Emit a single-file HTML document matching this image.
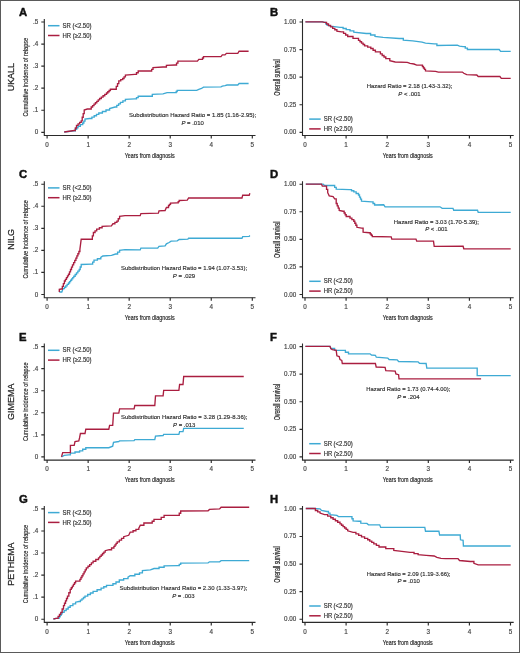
<!DOCTYPE html>
<html><head><meta charset="utf-8"><style>
html,body{margin:0;padding:0;background:#fff;}
body{width:520px;height:653px;overflow:hidden;position:relative;}
svg{position:absolute;left:0;top:0;font-family:"Liberation Sans", sans-serif;filter:blur(0.42px);}
svg text{stroke:#2b2b2b;stroke-width:0.16px;}
</style></head><body>
<svg width="520" height="653" viewBox="0 0 520 653">
<rect x="0" y="0" width="520" height="653" fill="#fff"/>
<text x="19.1" y="15.9" font-size="11.3" text-anchor="start" font-weight="bold" fill="#111" style="stroke:#111;stroke-width:0.45px">A</text>
<path d="M44.3 19 V135.5 H255.5" fill="none" stroke="#2a2a2a" stroke-width="1.1"/>
<text x="38.3" y="134.3" font-size="6.3" text-anchor="end" font-weight="normal" fill="#444" style="stroke:#444">0</text>
<text x="38.3" y="112.24" font-size="6.3" text-anchor="end" font-weight="normal" fill="#444" style="stroke:#444">.1</text>
<text x="38.3" y="90.18" font-size="6.3" text-anchor="end" font-weight="normal" fill="#444" style="stroke:#444">.2</text>
<text x="38.3" y="68.12" font-size="6.3" text-anchor="end" font-weight="normal" fill="#444" style="stroke:#444">.3</text>
<text x="38.3" y="46.06" font-size="6.3" text-anchor="end" font-weight="normal" fill="#444" style="stroke:#444">.4</text>
<text x="38.3" y="24" font-size="6.3" text-anchor="end" font-weight="normal" fill="#444" style="stroke:#444">.5</text>
<text x="47.1" y="146.8" font-size="6.3" text-anchor="middle" font-weight="normal" fill="#444" style="stroke:#444">0</text>
<text x="88.14" y="146.8" font-size="6.3" text-anchor="middle" font-weight="normal" fill="#444" style="stroke:#444">1</text>
<text x="129.18" y="146.8" font-size="6.3" text-anchor="middle" font-weight="normal" fill="#444" style="stroke:#444">2</text>
<text x="170.22" y="146.8" font-size="6.3" text-anchor="middle" font-weight="normal" fill="#444" style="stroke:#444">3</text>
<text x="211.26" y="146.8" font-size="6.3" text-anchor="middle" font-weight="normal" fill="#444" style="stroke:#444">4</text>
<text x="252.3" y="146.8" font-size="6.3" text-anchor="middle" font-weight="normal" fill="#444" style="stroke:#444">5</text>
<path d="M41.3 132.3 H44.3 M41.3 110.24 H44.3 M41.3 88.18 H44.3 M41.3 66.12 H44.3 M41.3 44.06 H44.3 M41.3 22 H44.3 M47.1 135.5 V138.5 M88.14 135.5 V138.5 M129.18 135.5 V138.5 M170.22 135.5 V138.5 M211.26 135.5 V138.5 M252.3 135.5 V138.5" stroke="#2a2a2a" stroke-width="1.15"/>
<text x="149.7" y="157.7" font-size="8.0" text-anchor="middle" fill="#222" style="stroke-width:0.2px" textLength="50" lengthAdjust="spacingAndGlyphs">Years from diagnosis</text>
<text transform="translate(28 77.15) rotate(-90)" x="0" y="0" font-size="7.6" text-anchor="middle" fill="#222" textLength="78.5" lengthAdjust="spacingAndGlyphs">Cumulative incidence of relapse</text>
<text transform="translate(13.9 77.15) rotate(-90)" x="0" y="0" font-size="8.95" text-anchor="middle" fill="#222" style="stroke-width:0.25px">UKALL</text>
<path d="M48 25.7 h11.5" stroke="#3eaad4" stroke-width="1.5"/>
<path d="M48 35.5 h11.5" stroke="#aa1e40" stroke-width="1.5"/>
<text x="62.5" y="27.8" font-size="6.5" text-anchor="start" font-weight="normal" fill="#333" textLength="29" lengthAdjust="spacingAndGlyphs">SR (&lt;2.50)</text>
<text x="62.5" y="37.6" font-size="6.5" text-anchor="start" font-weight="normal" fill="#333" textLength="29" lengthAdjust="spacingAndGlyphs">HR (&#8805;2.50)</text>
<text x="192.6" y="117.4" font-size="6.05" text-anchor="middle" fill="#333" textLength="127.2" lengthAdjust="spacingAndGlyphs">Subdistribution Hazard Ratio = 1.85 (1.16-2.95);</text>
<text x="192.6" y="125.1" font-size="6.05" text-anchor="middle" fill="#333" textLength="22.4" lengthAdjust="spacingAndGlyphs"><tspan font-style="italic">P</tspan> = .010</text>
<path d="M64.2 132 L74 130.8 L75.33 130.8 L75.33 129.27 L76.67 129.27 L76.67 127.73 L78 127.73 L78 126.2 L80.35 126.2 L80.35 124.6 L82.7 124.6 L82.7 123 L83.85 123 L83.85 121.1 L85 121.1 L85 119.2 L89.6 118.5 L91.9 118.5 L91.9 117.12 L94.2 117.12 L94.2 115.75 L96.5 115.75 L96.5 114.38 L98.8 114.38 L98.8 113 L102.4 113 L102.4 111.5 L106 111.5 L106 110 L109.6 110 L109.6 108.5 L115 107 L116.8 107 L116.8 105.43 L118.6 105.43 L118.6 103.87 L120.4 103.87 L120.4 102.3 L122.9 102.3 L122.9 100.8 L125.4 100.8 L125.4 99.3 L134.8 98.9 L136.5 98.9 L136.5 97.55 L138.2 97.55 L138.2 96.2 L149.6 96.2 L152.3 96.2 L152.3 94.3 L163 93.9 L167.1 92.6 L175.2 92.6 L176.2 92.6 L176.2 91.45 L177.2 91.45 L177.2 90.3 L196.7 90.3 L198.8 89.3 L201.5 88.5 L203.5 87.2 L221 86.9 L222.3 86.2 L225 85.6 L227 85 L237.8 85 L239.1 83.5 L248.6 83.5" fill="none" stroke="#3eaad4" stroke-width="1.35" stroke-linejoin="miter"/>
<path d="M64.2 132 L74.2 130.5 L75.35 130.5 L75.35 127.95 L76.5 127.95 L76.5 125.4 L78.07 125.4 L78.07 123.87 L79.63 123.87 L79.63 122.33 L81.2 122.33 L81.2 120.8 L82.2 120.8 L82.2 117.2 L83.2 117.2 L83.2 113.6 L84.2 113.6 L84.2 110 L87.3 109 L91.2 109 L91.2 107 L92.6 107 L92.6 105.58 L94 105.58 L94 104.17 L95.4 104.17 L95.4 102.75 L96.8 102.75 L96.8 101.33 L98.2 101.33 L98.2 99.92 L99.6 99.92 L99.6 98.5 L101.32 98.5 L101.32 97.12 L103.05 97.12 L103.05 95.75 L104.78 95.75 L104.78 94.38 L106.5 94.38 L106.5 93 L107.8 93 L107.8 91.73 L109.1 91.73 L109.1 90.47 L110.4 90.47 L110.4 89.2 L115 89.2 L116.27 89.2 L116.27 86.4 L117.53 86.4 L117.53 83.6 L118.8 83.6 L118.8 80.8 L120.75 80.8 L120.75 79.65 L122.7 79.65 L122.7 78.5 L124.05 78.5 L124.05 76.8 L125.4 76.8 L125.4 75.1 L134.8 74.4 L136.5 74.4 L136.5 72.7 L138.2 72.7 L138.2 71 L150.3 71 L151.65 71 L151.65 69.35 L153 69.35 L153 67.7 L163 67 L166.4 67 L166.4 65.3 L175.2 65 L176.55 65 L176.55 63.1 L177.9 63.1 L177.9 61.2 L197.4 61.1 L198.8 59.3 L201.5 59.3 L202.5 59.3 L202.5 57.95 L203.5 57.95 L203.5 56.6 L221 56.6 L222.3 54.9 L225 54.9 L226.4 53.3 L237.8 53.3 L239.1 51.2 L248.6 51.2" fill="none" stroke="#aa1e40" stroke-width="1.35" stroke-linejoin="miter"/>
<text x="270.1" y="15.9" font-size="11.3" text-anchor="start" font-weight="bold" fill="#111" style="stroke:#111;stroke-width:0.45px">B</text>
<path d="M302.5 19 V135.5 H513.7" fill="none" stroke="#2a2a2a" stroke-width="1.1"/>
<text x="296.3" y="134.3" font-size="6.3" text-anchor="end" font-weight="normal" fill="#444" style="stroke:#444">0.00</text>
<text x="296.3" y="106.73" font-size="6.3" text-anchor="end" font-weight="normal" fill="#444" style="stroke:#444">0.25</text>
<text x="296.3" y="79.15" font-size="6.3" text-anchor="end" font-weight="normal" fill="#444" style="stroke:#444">0.50</text>
<text x="296.3" y="51.58" font-size="6.3" text-anchor="end" font-weight="normal" fill="#444" style="stroke:#444">0.75</text>
<text x="296.3" y="24" font-size="6.3" text-anchor="end" font-weight="normal" fill="#444" style="stroke:#444">1.00</text>
<text x="305" y="146.8" font-size="6.3" text-anchor="middle" font-weight="normal" fill="#444" style="stroke:#444">0</text>
<text x="346.1" y="146.8" font-size="6.3" text-anchor="middle" font-weight="normal" fill="#444" style="stroke:#444">1</text>
<text x="387.2" y="146.8" font-size="6.3" text-anchor="middle" font-weight="normal" fill="#444" style="stroke:#444">2</text>
<text x="428.3" y="146.8" font-size="6.3" text-anchor="middle" font-weight="normal" fill="#444" style="stroke:#444">3</text>
<text x="469.4" y="146.8" font-size="6.3" text-anchor="middle" font-weight="normal" fill="#444" style="stroke:#444">4</text>
<text x="510.5" y="146.8" font-size="6.3" text-anchor="middle" font-weight="normal" fill="#444" style="stroke:#444">5</text>
<path d="M299.5 132.3 H302.5 M299.5 104.73 H302.5 M299.5 77.15 H302.5 M299.5 49.58 H302.5 M299.5 22 H302.5 M305 135.5 V138.5 M346.1 135.5 V138.5 M387.2 135.5 V138.5 M428.3 135.5 V138.5 M469.4 135.5 V138.5 M510.5 135.5 V138.5" stroke="#2a2a2a" stroke-width="1.15"/>
<text x="407.75" y="157.7" font-size="8.0" text-anchor="middle" fill="#222" style="stroke-width:0.2px" textLength="50" lengthAdjust="spacingAndGlyphs">Years from diagnosis</text>
<text transform="translate(280.2 77.55) rotate(-90)" x="0" y="0" font-size="8.2" text-anchor="middle" fill="#222" textLength="36.4" lengthAdjust="spacingAndGlyphs">Overall survival</text>
<path d="M309.2 119.1 h11.5" stroke="#3eaad4" stroke-width="1.5"/>
<path d="M309.2 128.9 h11.5" stroke="#aa1e40" stroke-width="1.5"/>
<text x="323.7" y="121.2" font-size="6.5" text-anchor="start" font-weight="normal" fill="#333" textLength="29" lengthAdjust="spacingAndGlyphs">SR (&lt;2.50)</text>
<text x="323.7" y="131" font-size="6.5" text-anchor="start" font-weight="normal" fill="#333" textLength="29" lengthAdjust="spacingAndGlyphs">HR (&#8805;2.50)</text>
<text x="409.5" y="88.1" font-size="6.05" text-anchor="middle" fill="#333" textLength="85.6" lengthAdjust="spacingAndGlyphs">Hazard Ratio = 2.18 (1.43-3.32);</text>
<text x="409.5" y="95.8" font-size="6.05" text-anchor="middle" fill="#333" textLength="22.4" lengthAdjust="spacingAndGlyphs"><tspan font-style="italic">P</tspan> &lt; .001</text>
<path d="M305.4 21.8 L322.3 21.8 L324.6 22.4 L325.75 22.4 L325.75 23.7 L326.9 23.7 L326.9 25 L330.8 26.1 L340 27.3 L343.1 27.3 L343.1 28.45 L346.2 28.45 L346.2 29.6 L350 29.6 L350 30.9 L353.8 30.9 L353.8 32.2 L366.2 33.5 L370.6 33.5 L370.6 34.95 L375 34.95 L375 36.4 L383.1 37.4 L399.2 38.5 L403.3 38.5 L403.3 40.1 L412.7 40.9 L422.1 42.2 L425.5 43.2 L434.2 43.8 L436.9 43.8 L436.9 45.5 L457.3 45.2 L459.5 46.2 L463.1 46.6 L465.25 46.6 L465.25 48.05 L467.4 48.05 L467.4 49.5 L499.2 49.5 L500.6 51.4 L510.7 51.4" fill="none" stroke="#3eaad4" stroke-width="1.35" stroke-linejoin="miter"/>
<path d="M305.4 21.8 L322.3 21.8 L324.6 22.4 L326.55 22.4 L326.55 23.95 L328.5 23.95 L328.5 25.5 L330.6 25.5 L330.6 26.93 L332.7 26.93 L332.7 28.35 L334.8 28.35 L334.8 29.77 L336.9 29.77 L336.9 31.2 L341.5 31.9 L343.57 31.9 L343.57 33.43 L345.63 33.43 L345.63 34.97 L347.7 34.97 L347.7 36.5 L353 36.5 L353 38.4 L358.5 38.4 L358.5 40.4 L360.02 40.4 L360.02 41.75 L361.55 41.75 L361.55 43.1 L363.08 43.1 L363.08 44.45 L364.6 44.45 L364.6 45.8 L367.7 45.8 L367.7 47.15 L370.8 47.15 L370.8 48.5 L373.1 48.5 L373.1 50.2 L375.4 50.2 L375.4 51.9 L380.4 51.9 L380.4 53.9 L382.2 53.9 L382.2 55.47 L384 55.47 L384 57.03 L385.8 57.03 L385.8 58.6 L389.8 58.6 L389.8 60.7 L395.2 62 L407.3 62.4 L410 63.4 L414 64 L416.7 65.1 L421.4 65.1 L422.42 65.1 L422.42 66.52 L423.45 66.52 L423.45 67.95 L424.48 67.95 L424.48 69.38 L425.5 69.38 L425.5 70.8 L435.6 71.4 L438.3 72.1 L462.4 72.1 L463.8 73.3 L466.7 74.7 L476.8 75 L478.2 76.5 L499.9 76.5 L501.3 78.3 L510.7 78.3" fill="none" stroke="#aa1e40" stroke-width="1.35" stroke-linejoin="miter"/>
<text x="19.1" y="178.1" font-size="11.3" text-anchor="start" font-weight="bold" fill="#111" style="stroke:#111;stroke-width:0.45px">C</text>
<path d="M44.3 181.2 V297.7 H255.5" fill="none" stroke="#2a2a2a" stroke-width="1.1"/>
<text x="38.3" y="296.5" font-size="6.3" text-anchor="end" font-weight="normal" fill="#444" style="stroke:#444">0</text>
<text x="38.3" y="274.44" font-size="6.3" text-anchor="end" font-weight="normal" fill="#444" style="stroke:#444">.1</text>
<text x="38.3" y="252.38" font-size="6.3" text-anchor="end" font-weight="normal" fill="#444" style="stroke:#444">.2</text>
<text x="38.3" y="230.32" font-size="6.3" text-anchor="end" font-weight="normal" fill="#444" style="stroke:#444">.3</text>
<text x="38.3" y="208.26" font-size="6.3" text-anchor="end" font-weight="normal" fill="#444" style="stroke:#444">.4</text>
<text x="38.3" y="186.2" font-size="6.3" text-anchor="end" font-weight="normal" fill="#444" style="stroke:#444">.5</text>
<text x="47.1" y="309" font-size="6.3" text-anchor="middle" font-weight="normal" fill="#444" style="stroke:#444">0</text>
<text x="88.14" y="309" font-size="6.3" text-anchor="middle" font-weight="normal" fill="#444" style="stroke:#444">1</text>
<text x="129.18" y="309" font-size="6.3" text-anchor="middle" font-weight="normal" fill="#444" style="stroke:#444">2</text>
<text x="170.22" y="309" font-size="6.3" text-anchor="middle" font-weight="normal" fill="#444" style="stroke:#444">3</text>
<text x="211.26" y="309" font-size="6.3" text-anchor="middle" font-weight="normal" fill="#444" style="stroke:#444">4</text>
<text x="252.3" y="309" font-size="6.3" text-anchor="middle" font-weight="normal" fill="#444" style="stroke:#444">5</text>
<path d="M41.3 294.5 H44.3 M41.3 272.44 H44.3 M41.3 250.38 H44.3 M41.3 228.32 H44.3 M41.3 206.26 H44.3 M41.3 184.2 H44.3 M47.1 297.7 V300.7 M88.14 297.7 V300.7 M129.18 297.7 V300.7 M170.22 297.7 V300.7 M211.26 297.7 V300.7 M252.3 297.7 V300.7" stroke="#2a2a2a" stroke-width="1.15"/>
<text x="149.7" y="319.9" font-size="8.0" text-anchor="middle" fill="#222" style="stroke-width:0.2px" textLength="50" lengthAdjust="spacingAndGlyphs">Years from diagnosis</text>
<text transform="translate(28 239.35) rotate(-90)" x="0" y="0" font-size="7.6" text-anchor="middle" fill="#222" textLength="78.5" lengthAdjust="spacingAndGlyphs">Cumulative incidence of relapse</text>
<text transform="translate(13.9 239.35) rotate(-90)" x="0" y="0" font-size="8.95" text-anchor="middle" fill="#222" style="stroke-width:0.25px">NILG</text>
<path d="M48 187.9 h11.5" stroke="#3eaad4" stroke-width="1.5"/>
<path d="M48 197.7 h11.5" stroke="#aa1e40" stroke-width="1.5"/>
<text x="62.5" y="190" font-size="6.5" text-anchor="start" font-weight="normal" fill="#333" textLength="29" lengthAdjust="spacingAndGlyphs">SR (&lt;2.50)</text>
<text x="62.5" y="199.8" font-size="6.5" text-anchor="start" font-weight="normal" fill="#333" textLength="29" lengthAdjust="spacingAndGlyphs">HR (&#8805;2.50)</text>
<text x="184" y="270.2" font-size="6.05" text-anchor="middle" fill="#333" textLength="126.1" lengthAdjust="spacingAndGlyphs">Subdistribution Hazard Ratio = 1.94 (1.07-3.53);</text>
<text x="184" y="277.9" font-size="6.05" text-anchor="middle" fill="#333" textLength="22.4" lengthAdjust="spacingAndGlyphs"><tspan font-style="italic">P</tspan> = .029</text>
<path d="M59.3 292 L61.8 292 L63.1 288.6 L64.45 288.6 L64.45 287.2 L65.8 287.2 L65.8 285.8 L67.15 285.8 L67.15 284.4 L68.5 284.4 L68.5 283 L69.56 283 L69.56 281.64 L70.62 281.64 L70.62 280.28 L71.68 280.28 L71.68 278.92 L72.74 278.92 L72.74 277.56 L73.8 277.56 L73.8 276.2 L75.15 276.2 L75.15 274.52 L76.5 274.52 L76.5 272.85 L77.85 272.85 L77.85 271.18 L79.2 271.18 L79.2 269.5 L80.2 269.5 L80.2 267 L81.2 267 L81.2 264.5 L91.3 264.1 L92.65 264.1 L92.65 262.1 L94 262.1 L94 260.1 L97.4 260.1 L97.4 258.75 L100.8 258.75 L100.8 257.4 L102.8 256 L111.5 255.4 L115.6 254 L117.6 254 L117.6 252.15 L119.6 252.15 L119.6 250.3 L125 249.7 L140.2 249.9 L140.9 248.1 L157.7 248.1 L159 246.3 L165.1 245.9 L166.4 243.8 L169.1 242.5 L171.1 241.1 L177.2 240.9 L179.2 239.5 L187.9 239.2 L188.6 238.2 L242 238.2 L242.7 236.6 L249.2 236.3 L249.9 235.6" fill="none" stroke="#3eaad4" stroke-width="1.35" stroke-linejoin="miter"/>
<path d="M59.3 292 L59.3 289.3 L61.3 289 L62.33 289 L62.33 286.33 L63.37 286.33 L63.37 283.67 L64.4 283.67 L64.4 281 L65.43 281 L65.43 279.3 L66.45 279.3 L66.45 277.6 L67.47 277.6 L67.47 275.9 L68.5 275.9 L68.5 274.2 L69.5 274.2 L69.5 271.85 L70.5 271.85 L70.5 269.5 L71.5 269.5 L71.5 267.15 L72.5 267.15 L72.5 264.8 L73.63 264.8 L73.63 262.57 L74.77 262.57 L74.77 260.33 L75.9 260.33 L75.9 258.1 L76.9 258.1 L76.9 255.9 L77.9 255.9 L77.9 253.7 L78.9 253.7 L78.9 251.5 L79.9 251.5 L79.9 249.3 L81.2 239.2 L91.3 239.2 L92.35 239.2 L92.35 235.85 L93.4 235.85 L93.4 232.5 L95.05 232.5 L95.05 230.8 L96.7 230.8 L96.7 229.1 L99.4 229.1 L99.4 227.75 L102.1 227.75 L102.1 226.4 L111.5 225.8 L112.9 223.7 L114.9 223.7 L114.9 222.4 L116.9 222.4 L116.9 221.1 L118.25 221.1 L118.25 218.7 L119.6 218.7 L119.6 216.3 L125 215.7 L140.2 215.6 L140.9 213.6 L158.4 213.1 L159 210.9 L165.1 210.5 L166.4 207.5 L168.5 207.5 L168.5 205.5 L169.5 205.5 L169.5 204.35 L170.5 204.35 L170.5 203.2 L177.2 202.8 L178.2 202.8 L178.2 201.65 L179.2 201.65 L179.2 200.5 L187.3 200.1 L188.6 198 L242 198 L242.7 195.2 L249.2 195.2 L249.9 193.3" fill="none" stroke="#aa1e40" stroke-width="1.35" stroke-linejoin="miter"/>
<text x="270.1" y="178.1" font-size="11.3" text-anchor="start" font-weight="bold" fill="#111" style="stroke:#111;stroke-width:0.45px">D</text>
<path d="M302.5 181.2 V297.7 H513.7" fill="none" stroke="#2a2a2a" stroke-width="1.1"/>
<text x="296.3" y="296.5" font-size="6.3" text-anchor="end" font-weight="normal" fill="#444" style="stroke:#444">0.00</text>
<text x="296.3" y="268.93" font-size="6.3" text-anchor="end" font-weight="normal" fill="#444" style="stroke:#444">0.25</text>
<text x="296.3" y="241.35" font-size="6.3" text-anchor="end" font-weight="normal" fill="#444" style="stroke:#444">0.50</text>
<text x="296.3" y="213.77" font-size="6.3" text-anchor="end" font-weight="normal" fill="#444" style="stroke:#444">0.75</text>
<text x="296.3" y="186.2" font-size="6.3" text-anchor="end" font-weight="normal" fill="#444" style="stroke:#444">1.00</text>
<text x="305" y="309" font-size="6.3" text-anchor="middle" font-weight="normal" fill="#444" style="stroke:#444">0</text>
<text x="346.1" y="309" font-size="6.3" text-anchor="middle" font-weight="normal" fill="#444" style="stroke:#444">1</text>
<text x="387.2" y="309" font-size="6.3" text-anchor="middle" font-weight="normal" fill="#444" style="stroke:#444">2</text>
<text x="428.3" y="309" font-size="6.3" text-anchor="middle" font-weight="normal" fill="#444" style="stroke:#444">3</text>
<text x="469.4" y="309" font-size="6.3" text-anchor="middle" font-weight="normal" fill="#444" style="stroke:#444">4</text>
<text x="510.5" y="309" font-size="6.3" text-anchor="middle" font-weight="normal" fill="#444" style="stroke:#444">5</text>
<path d="M299.5 294.5 H302.5 M299.5 266.93 H302.5 M299.5 239.35 H302.5 M299.5 211.77 H302.5 M299.5 184.2 H302.5 M305 297.7 V300.7 M346.1 297.7 V300.7 M387.2 297.7 V300.7 M428.3 297.7 V300.7 M469.4 297.7 V300.7 M510.5 297.7 V300.7" stroke="#2a2a2a" stroke-width="1.15"/>
<text x="407.75" y="319.9" font-size="8.0" text-anchor="middle" fill="#222" style="stroke-width:0.2px" textLength="50" lengthAdjust="spacingAndGlyphs">Years from diagnosis</text>
<text transform="translate(280.2 239.75) rotate(-90)" x="0" y="0" font-size="8.2" text-anchor="middle" fill="#222" textLength="36.4" lengthAdjust="spacingAndGlyphs">Overall survival</text>
<path d="M309.2 281.3 h11.5" stroke="#3eaad4" stroke-width="1.5"/>
<path d="M309.2 291.1 h11.5" stroke="#aa1e40" stroke-width="1.5"/>
<text x="323.7" y="283.4" font-size="6.5" text-anchor="start" font-weight="normal" fill="#333" textLength="29" lengthAdjust="spacingAndGlyphs">SR (&lt;2.50)</text>
<text x="323.7" y="293.2" font-size="6.5" text-anchor="start" font-weight="normal" fill="#333" textLength="29" lengthAdjust="spacingAndGlyphs">HR (&#8805;2.50)</text>
<text x="436.4" y="223.6" font-size="6.05" text-anchor="middle" fill="#333" textLength="85.2" lengthAdjust="spacingAndGlyphs">Hazard Ratio = 3.03 (1.70-5.39);</text>
<text x="436.4" y="231.3" font-size="6.05" text-anchor="middle" fill="#333" textLength="22.4" lengthAdjust="spacingAndGlyphs"><tspan font-style="italic">P</tspan> &lt; .001</text>
<path d="M305.8 184.1 L323.1 184.1 L324.6 185.5 L333.1 185.5 L334.65 185.5 L334.65 187.35 L336.2 187.35 L336.2 189.2 L349.2 189.6 L351.5 189.6 L351.5 190.75 L353.8 190.75 L353.8 191.9 L356.15 191.9 L356.15 193.45 L358.5 193.45 L358.5 195 L359.5 195 L359.5 197.07 L360.5 197.07 L360.5 199.13 L361.5 199.13 L361.5 201.2 L371.5 201.9 L373.05 201.9 L373.05 203.45 L374.6 203.45 L374.6 205 L383.7 204.8 L385.1 206.8 L440 206.8 L442.2 208.3 L453 208.3 L453.7 210.2 L477.5 210.2 L478.2 212.3 L510.7 212.3" fill="none" stroke="#3eaad4" stroke-width="1.35" stroke-linejoin="miter"/>
<path d="M305.8 184.1 L321.5 184.1 L322.3 186.1 L325.4 186.1 L326.55 186.1 L326.55 189.4 L327.7 189.4 L327.7 192.7 L329.2 195.8 L333.1 196.5 L334.6 198.8 L336.2 198.8 L336.2 203.5 L337.2 203.5 L337.2 205.8 L338.2 205.8 L338.2 208.1 L339.2 208.1 L339.2 210.4 L343.1 211.2 L344.13 211.2 L344.13 212.97 L345.17 212.97 L345.17 214.73 L346.2 214.73 L346.2 216.5 L350 216.5 L350 218.1 L351.9 218.1 L351.9 219.65 L353.8 219.65 L353.8 221.2 L354.83 221.2 L354.83 223.23 L355.87 223.23 L355.87 225.27 L356.9 225.27 L356.9 227.3 L361.5 228.1 L363.1 228.1 L363.1 232.2 L369.2 232.7 L370.23 232.7 L370.23 233.97 L371.27 233.97 L371.27 235.23 L372.3 235.23 L372.3 236.5 L391.2 236.8 L391.8 239.1 L416 239.1 L416.7 241.1 L433.5 241.1 L434.2 246.3 L463.1 246.2 L463.8 248.8 L510.7 248.8" fill="none" stroke="#aa1e40" stroke-width="1.35" stroke-linejoin="miter"/>
<text x="19.1" y="340.5" font-size="11.3" text-anchor="start" font-weight="bold" fill="#111" style="stroke:#111;stroke-width:0.45px">E</text>
<path d="M44.3 343.6 V460.1 H255.5" fill="none" stroke="#2a2a2a" stroke-width="1.1"/>
<text x="38.3" y="458.9" font-size="6.3" text-anchor="end" font-weight="normal" fill="#444" style="stroke:#444">0</text>
<text x="38.3" y="436.84" font-size="6.3" text-anchor="end" font-weight="normal" fill="#444" style="stroke:#444">.1</text>
<text x="38.3" y="414.78" font-size="6.3" text-anchor="end" font-weight="normal" fill="#444" style="stroke:#444">.2</text>
<text x="38.3" y="392.72" font-size="6.3" text-anchor="end" font-weight="normal" fill="#444" style="stroke:#444">.3</text>
<text x="38.3" y="370.66" font-size="6.3" text-anchor="end" font-weight="normal" fill="#444" style="stroke:#444">.4</text>
<text x="38.3" y="348.6" font-size="6.3" text-anchor="end" font-weight="normal" fill="#444" style="stroke:#444">.5</text>
<text x="47.1" y="471.4" font-size="6.3" text-anchor="middle" font-weight="normal" fill="#444" style="stroke:#444">0</text>
<text x="88.14" y="471.4" font-size="6.3" text-anchor="middle" font-weight="normal" fill="#444" style="stroke:#444">1</text>
<text x="129.18" y="471.4" font-size="6.3" text-anchor="middle" font-weight="normal" fill="#444" style="stroke:#444">2</text>
<text x="170.22" y="471.4" font-size="6.3" text-anchor="middle" font-weight="normal" fill="#444" style="stroke:#444">3</text>
<text x="211.26" y="471.4" font-size="6.3" text-anchor="middle" font-weight="normal" fill="#444" style="stroke:#444">4</text>
<text x="252.3" y="471.4" font-size="6.3" text-anchor="middle" font-weight="normal" fill="#444" style="stroke:#444">5</text>
<path d="M41.3 456.9 H44.3 M41.3 434.84 H44.3 M41.3 412.78 H44.3 M41.3 390.72 H44.3 M41.3 368.66 H44.3 M41.3 346.6 H44.3 M47.1 460.1 V463.1 M88.14 460.1 V463.1 M129.18 460.1 V463.1 M170.22 460.1 V463.1 M211.26 460.1 V463.1 M252.3 460.1 V463.1" stroke="#2a2a2a" stroke-width="1.15"/>
<text x="149.7" y="482.3" font-size="8.0" text-anchor="middle" fill="#222" style="stroke-width:0.2px" textLength="50" lengthAdjust="spacingAndGlyphs">Years from diagnosis</text>
<text transform="translate(28 401.75) rotate(-90)" x="0" y="0" font-size="7.6" text-anchor="middle" fill="#222" textLength="78.5" lengthAdjust="spacingAndGlyphs">Cumulative incidence of relapse</text>
<text transform="translate(13.9 401.75) rotate(-90)" x="0" y="0" font-size="8.95" text-anchor="middle" fill="#222" style="stroke-width:0.25px">GIMEMA</text>
<path d="M48 350.3 h11.5" stroke="#3eaad4" stroke-width="1.5"/>
<path d="M48 360.1 h11.5" stroke="#aa1e40" stroke-width="1.5"/>
<text x="62.5" y="352.4" font-size="6.5" text-anchor="start" font-weight="normal" fill="#333" textLength="29" lengthAdjust="spacingAndGlyphs">SR (&lt;2.50)</text>
<text x="62.5" y="362.2" font-size="6.5" text-anchor="start" font-weight="normal" fill="#333" textLength="29" lengthAdjust="spacingAndGlyphs">HR (&#8805;2.50)</text>
<text x="184.2" y="419" font-size="6.05" text-anchor="middle" fill="#333" textLength="126.3" lengthAdjust="spacingAndGlyphs">Subdistribution Hazard Ratio = 3.28 (1.29-8.36);</text>
<text x="184.2" y="426.7" font-size="6.05" text-anchor="middle" fill="#333" textLength="22.4" lengthAdjust="spacingAndGlyphs"><tspan font-style="italic">P</tspan> = .013</text>
<path d="M61.5 456.9 L64.2 455.4 L68.8 454.9 L70.4 454.9 L70.4 453.1 L75 453.1 L75 451.95 L79.6 451.95 L79.6 450.8 L82.7 450.8 L82.7 449.25 L85.8 449.25 L85.8 447.7 L108.8 447.7 L112.7 446.2 L113.5 442.3 L118.8 441.5 L119.6 440.8 L134.1 440.6 L134.8 439.6 L154.8 439.6 L155.5 436.2 L163.1 435.5 L163.7 434.4 L178.9 434.4 L179.6 431.6 L183 431.6 L183.7 428.4 L243.75 428.4" fill="none" stroke="#3eaad4" stroke-width="1.35" stroke-linejoin="miter"/>
<path d="M61.5 456.9 L62.7 452.6 L68.8 452.6 L70.4 452.6 L70.4 445.4 L74.2 445.4 L75 441.5 L78.8 440.8 L79.6 437.7 L80.4 433.5 L85 433.5 L85.8 429.2 L108.8 429.2 L109.6 425.4 L112.7 425.4 L113.5 413.1 L118.8 413.1 L119.6 408.9 L134.1 408.9 L134.8 405.5 L154.8 405.5 L155.5 395.8 L163.1 395.8 L163.7 390.3 L178.9 390.3 L179.6 384.5 L183 384.5 L183.7 376.5 L243.75 376.5" fill="none" stroke="#aa1e40" stroke-width="1.35" stroke-linejoin="miter"/>
<text x="270.1" y="340.5" font-size="11.3" text-anchor="start" font-weight="bold" fill="#111" style="stroke:#111;stroke-width:0.45px">F</text>
<path d="M302.5 343.6 V460.1 H513.7" fill="none" stroke="#2a2a2a" stroke-width="1.1"/>
<text x="296.3" y="458.9" font-size="6.3" text-anchor="end" font-weight="normal" fill="#444" style="stroke:#444">0.00</text>
<text x="296.3" y="431.33" font-size="6.3" text-anchor="end" font-weight="normal" fill="#444" style="stroke:#444">0.25</text>
<text x="296.3" y="403.75" font-size="6.3" text-anchor="end" font-weight="normal" fill="#444" style="stroke:#444">0.50</text>
<text x="296.3" y="376.18" font-size="6.3" text-anchor="end" font-weight="normal" fill="#444" style="stroke:#444">0.75</text>
<text x="296.3" y="348.6" font-size="6.3" text-anchor="end" font-weight="normal" fill="#444" style="stroke:#444">1.00</text>
<text x="305" y="471.4" font-size="6.3" text-anchor="middle" font-weight="normal" fill="#444" style="stroke:#444">0</text>
<text x="346.1" y="471.4" font-size="6.3" text-anchor="middle" font-weight="normal" fill="#444" style="stroke:#444">1</text>
<text x="387.2" y="471.4" font-size="6.3" text-anchor="middle" font-weight="normal" fill="#444" style="stroke:#444">2</text>
<text x="428.3" y="471.4" font-size="6.3" text-anchor="middle" font-weight="normal" fill="#444" style="stroke:#444">3</text>
<text x="469.4" y="471.4" font-size="6.3" text-anchor="middle" font-weight="normal" fill="#444" style="stroke:#444">4</text>
<text x="510.5" y="471.4" font-size="6.3" text-anchor="middle" font-weight="normal" fill="#444" style="stroke:#444">5</text>
<path d="M299.5 456.9 H302.5 M299.5 429.33 H302.5 M299.5 401.75 H302.5 M299.5 374.18 H302.5 M299.5 346.6 H302.5 M305 460.1 V463.1 M346.1 460.1 V463.1 M387.2 460.1 V463.1 M428.3 460.1 V463.1 M469.4 460.1 V463.1 M510.5 460.1 V463.1" stroke="#2a2a2a" stroke-width="1.15"/>
<text x="407.75" y="482.3" font-size="8.0" text-anchor="middle" fill="#222" style="stroke-width:0.2px" textLength="50" lengthAdjust="spacingAndGlyphs">Years from diagnosis</text>
<text transform="translate(280.2 402.15) rotate(-90)" x="0" y="0" font-size="8.2" text-anchor="middle" fill="#222" textLength="36.4" lengthAdjust="spacingAndGlyphs">Overall survival</text>
<path d="M309.2 443.7 h11.5" stroke="#3eaad4" stroke-width="1.5"/>
<path d="M309.2 453.5 h11.5" stroke="#aa1e40" stroke-width="1.5"/>
<text x="323.7" y="445.8" font-size="6.5" text-anchor="start" font-weight="normal" fill="#333" textLength="29" lengthAdjust="spacingAndGlyphs">SR (&lt;2.50)</text>
<text x="323.7" y="455.6" font-size="6.5" text-anchor="start" font-weight="normal" fill="#333" textLength="29" lengthAdjust="spacingAndGlyphs">HR (&#8805;2.50)</text>
<text x="408.4" y="391.2" font-size="6.05" text-anchor="middle" fill="#333" textLength="84.1" lengthAdjust="spacingAndGlyphs">Hazard Ratio = 1.73 (0.74-4.00);</text>
<text x="408.4" y="398.9" font-size="6.05" text-anchor="middle" fill="#333" textLength="22.4" lengthAdjust="spacingAndGlyphs"><tspan font-style="italic">P</tspan> = .204</text>
<path d="M305.4 346.3 L330 346.3 L330.8 348.5 L334.6 348.5 L334.6 350.1 L336.2 350.4 L343.8 350.4 L345.4 350.4 L345.4 352.2 L348.5 352.2 L348.5 353.8 L370 353.8 L371.5 355 L375.4 355.3 L376.3 357.2 L387.8 358.1 L389.1 359.5 L397.2 359.9 L398.6 361.5 L418.1 361.9 L419.4 363.3 L426.1 363.5 L426.8 368.1 L477.2 368.1 L477.2 375.6 L510.7 375.6" fill="none" stroke="#3eaad4" stroke-width="1.35" stroke-linejoin="miter"/>
<path d="M305.4 346.3 L330 346.3 L330.8 348.5 L332.3 349.6 L336.2 350.4 L336.9 355.8 L339.2 356.5 L340 359.6 L341.8 360.4 L342.3 363.5 L375.4 363.5 L376.2 367 L385.1 367.3 L385.8 370.7 L395.2 371.1 L395.9 374 L398.6 374.7 L399 378.8 L481.1 378.8" fill="none" stroke="#aa1e40" stroke-width="1.35" stroke-linejoin="miter"/>
<text x="19.1" y="502.8" font-size="11.3" text-anchor="start" font-weight="bold" fill="#111" style="stroke:#111;stroke-width:0.45px">G</text>
<path d="M44.3 505.9 V622.4 H255.5" fill="none" stroke="#2a2a2a" stroke-width="1.1"/>
<text x="38.3" y="621.2" font-size="6.3" text-anchor="end" font-weight="normal" fill="#444" style="stroke:#444">0</text>
<text x="38.3" y="599.14" font-size="6.3" text-anchor="end" font-weight="normal" fill="#444" style="stroke:#444">.1</text>
<text x="38.3" y="577.08" font-size="6.3" text-anchor="end" font-weight="normal" fill="#444" style="stroke:#444">.2</text>
<text x="38.3" y="555.02" font-size="6.3" text-anchor="end" font-weight="normal" fill="#444" style="stroke:#444">.3</text>
<text x="38.3" y="532.96" font-size="6.3" text-anchor="end" font-weight="normal" fill="#444" style="stroke:#444">.4</text>
<text x="38.3" y="510.9" font-size="6.3" text-anchor="end" font-weight="normal" fill="#444" style="stroke:#444">.5</text>
<text x="47.1" y="633.7" font-size="6.3" text-anchor="middle" font-weight="normal" fill="#444" style="stroke:#444">0</text>
<text x="88.14" y="633.7" font-size="6.3" text-anchor="middle" font-weight="normal" fill="#444" style="stroke:#444">1</text>
<text x="129.18" y="633.7" font-size="6.3" text-anchor="middle" font-weight="normal" fill="#444" style="stroke:#444">2</text>
<text x="170.22" y="633.7" font-size="6.3" text-anchor="middle" font-weight="normal" fill="#444" style="stroke:#444">3</text>
<text x="211.26" y="633.7" font-size="6.3" text-anchor="middle" font-weight="normal" fill="#444" style="stroke:#444">4</text>
<text x="252.3" y="633.7" font-size="6.3" text-anchor="middle" font-weight="normal" fill="#444" style="stroke:#444">5</text>
<path d="M41.3 619.2 H44.3 M41.3 597.14 H44.3 M41.3 575.08 H44.3 M41.3 553.02 H44.3 M41.3 530.96 H44.3 M41.3 508.9 H44.3 M47.1 622.4 V625.4 M88.14 622.4 V625.4 M129.18 622.4 V625.4 M170.22 622.4 V625.4 M211.26 622.4 V625.4 M252.3 622.4 V625.4" stroke="#2a2a2a" stroke-width="1.15"/>
<text x="149.7" y="644.6" font-size="8.0" text-anchor="middle" fill="#222" style="stroke-width:0.2px" textLength="50" lengthAdjust="spacingAndGlyphs">Years from diagnosis</text>
<text transform="translate(28 564.05) rotate(-90)" x="0" y="0" font-size="7.6" text-anchor="middle" fill="#222" textLength="78.5" lengthAdjust="spacingAndGlyphs">Cumulative incidence of relapse</text>
<text transform="translate(13.9 564.05) rotate(-90)" x="0" y="0" font-size="8.95" text-anchor="middle" fill="#222" style="stroke-width:0.25px">PETHEMA</text>
<path d="M48 512.6 h11.5" stroke="#3eaad4" stroke-width="1.5"/>
<path d="M48 522.4 h11.5" stroke="#aa1e40" stroke-width="1.5"/>
<text x="62.5" y="514.7" font-size="6.5" text-anchor="start" font-weight="normal" fill="#333" textLength="29" lengthAdjust="spacingAndGlyphs">SR (&lt;2.50)</text>
<text x="62.5" y="524.5" font-size="6.5" text-anchor="start" font-weight="normal" fill="#333" textLength="29" lengthAdjust="spacingAndGlyphs">HR (&#8805;2.50)</text>
<text x="183.4" y="589.8" font-size="6.05" text-anchor="middle" fill="#333" textLength="127.9" lengthAdjust="spacingAndGlyphs">Subdistribution Hazard Ratio = 2.30 (1.33-3.97);</text>
<text x="183.4" y="597.5" font-size="6.05" text-anchor="middle" fill="#333" textLength="22.4" lengthAdjust="spacingAndGlyphs"><tspan font-style="italic">P</tspan> = .003</text>
<path d="M53.4 619 L56.1 618.4 L58.1 618.4 L59.1 618.4 L59.1 616.88 L60.1 616.88 L60.1 615.35 L61.1 615.35 L61.1 613.82 L62.1 613.82 L62.1 612.3 L64.12 612.3 L64.12 610.62 L66.15 610.62 L66.15 608.95 L68.17 608.95 L68.17 607.27 L70.2 607.27 L70.2 605.6 L72.9 605.6 L72.9 603.9 L75.6 603.9 L75.6 602.2 L78.9 601.5 L80.43 601.5 L80.43 600.15 L81.95 600.15 L81.95 598.8 L83.47 598.8 L83.47 597.45 L85 597.45 L85 596.1 L87.7 596.1 L87.7 594.53 L90.4 594.53 L90.4 592.97 L93.1 592.97 L93.1 591.4 L97.1 591.4 L97.1 589.75 L101.1 589.75 L101.1 588.1 L103.8 588.1 L103.8 586.75 L106.5 586.75 L106.5 585.4 L109.9 585.4 L112.95 585.4 L112.95 583.7 L116 583.7 L116 582 L119.3 582 L119.3 580 L123.65 580 L123.65 578.6 L128 578.6 L128 577.2 L130.2 575.7 L134.85 575.7 L134.85 574.25 L139.5 574.25 L139.5 572.8 L142.4 572.8 L142.4 570.7 L150.4 569.9 L154 568.5 L159.05 568.5 L159.05 567.2 L164.1 567.2 L164.1 565.9 L177.8 565.6 L179.25 565.6 L179.25 564.4 L180.7 564.4 L180.7 563.2 L208.1 562.8 L209.5 561.8 L219.6 561.8 L221.1 560.6 L249.2 560.6" fill="none" stroke="#3eaad4" stroke-width="1.35" stroke-linejoin="miter"/>
<path d="M53.4 619 L56.1 618.4 L58.1 618.4 L58.1 616.3 L59.45 616.3 L59.45 614.3 L60.8 614.3 L60.8 612.3 L62.15 612.3 L62.15 608.95 L63.5 608.95 L63.5 605.6 L64.5 605.6 L64.5 603.23 L65.5 603.23 L65.5 600.85 L66.5 600.85 L66.5 598.48 L67.5 598.48 L67.5 596.1 L68.85 596.1 L68.85 592.75 L70.2 592.75 L70.2 589.4 L71.28 589.4 L71.28 587.74 L72.36 587.74 L72.36 586.08 L73.44 586.08 L73.44 584.42 L74.52 584.42 L74.52 582.76 L75.6 582.76 L75.6 581.1 L78.9 581.1 L79.93 581.1 L79.93 579.3 L80.95 579.3 L80.95 577.5 L81.97 577.5 L81.97 575.7 L83 575.7 L83 573.9 L84.1 573.9 L84.1 571.9 L85.2 571.9 L85.2 569.9 L86.3 569.9 L86.3 567.9 L88 567.9 L88 566.23 L89.7 566.23 L89.7 564.55 L91.4 564.55 L91.4 562.88 L93.1 562.88 L93.1 561.2 L95.8 561.2 L95.8 559.5 L98.5 559.5 L98.5 557.8 L99.84 557.8 L99.84 556.38 L101.18 556.38 L101.18 554.96 L102.52 554.96 L102.52 553.54 L103.86 553.54 L103.86 552.12 L105.2 552.12 L105.2 550.7 L109.2 549.7 L111.55 549.7 L111.55 548 L113.9 548 L113.9 546.3 L115 546.3 L115 544.8 L116.1 544.8 L116.1 543.3 L117.2 543.3 L117.2 541.8 L119.37 541.8 L119.37 540.1 L121.53 540.1 L121.53 538.4 L123.7 538.4 L123.7 536.7 L128.7 535.3 L130.2 532.1 L133.07 532.1 L133.07 530.77 L135.93 530.77 L135.93 529.43 L138.8 529.43 L138.8 528.1 L140.3 525.2 L143.9 525.2 L143.9 523 L150.4 523 L152.2 523 L152.2 521.2 L154 521.2 L154 519.4 L161.2 519.4 L161.2 517.3 L164.1 517.3 L164.1 515.4 L177.8 515.4 L179.25 515.4 L179.25 513.2 L180.7 513.2 L180.7 511 L208.1 510.8 L209.5 509.4 L219.6 508.9 L221.1 507.2 L249.2 507.2" fill="none" stroke="#aa1e40" stroke-width="1.35" stroke-linejoin="miter"/>
<text x="270.1" y="502.8" font-size="11.3" text-anchor="start" font-weight="bold" fill="#111" style="stroke:#111;stroke-width:0.45px">H</text>
<path d="M302.5 505.9 V622.4 H513.7" fill="none" stroke="#2a2a2a" stroke-width="1.1"/>
<text x="296.3" y="621.2" font-size="6.3" text-anchor="end" font-weight="normal" fill="#444" style="stroke:#444">0.00</text>
<text x="296.3" y="593.62" font-size="6.3" text-anchor="end" font-weight="normal" fill="#444" style="stroke:#444">0.25</text>
<text x="296.3" y="566.05" font-size="6.3" text-anchor="end" font-weight="normal" fill="#444" style="stroke:#444">0.50</text>
<text x="296.3" y="538.48" font-size="6.3" text-anchor="end" font-weight="normal" fill="#444" style="stroke:#444">0.75</text>
<text x="296.3" y="510.9" font-size="6.3" text-anchor="end" font-weight="normal" fill="#444" style="stroke:#444">1.00</text>
<text x="305" y="633.7" font-size="6.3" text-anchor="middle" font-weight="normal" fill="#444" style="stroke:#444">0</text>
<text x="346.1" y="633.7" font-size="6.3" text-anchor="middle" font-weight="normal" fill="#444" style="stroke:#444">1</text>
<text x="387.2" y="633.7" font-size="6.3" text-anchor="middle" font-weight="normal" fill="#444" style="stroke:#444">2</text>
<text x="428.3" y="633.7" font-size="6.3" text-anchor="middle" font-weight="normal" fill="#444" style="stroke:#444">3</text>
<text x="469.4" y="633.7" font-size="6.3" text-anchor="middle" font-weight="normal" fill="#444" style="stroke:#444">4</text>
<text x="510.5" y="633.7" font-size="6.3" text-anchor="middle" font-weight="normal" fill="#444" style="stroke:#444">5</text>
<path d="M299.5 619.2 H302.5 M299.5 591.62 H302.5 M299.5 564.05 H302.5 M299.5 536.48 H302.5 M299.5 508.9 H302.5 M305 622.4 V625.4 M346.1 622.4 V625.4 M387.2 622.4 V625.4 M428.3 622.4 V625.4 M469.4 622.4 V625.4 M510.5 622.4 V625.4" stroke="#2a2a2a" stroke-width="1.15"/>
<text x="407.75" y="644.6" font-size="8.0" text-anchor="middle" fill="#222" style="stroke-width:0.2px" textLength="50" lengthAdjust="spacingAndGlyphs">Years from diagnosis</text>
<text transform="translate(280.2 564.45) rotate(-90)" x="0" y="0" font-size="8.2" text-anchor="middle" fill="#222" textLength="36.4" lengthAdjust="spacingAndGlyphs">Overall survival</text>
<path d="M309.2 606 h11.5" stroke="#3eaad4" stroke-width="1.5"/>
<path d="M309.2 615.8 h11.5" stroke="#aa1e40" stroke-width="1.5"/>
<text x="323.7" y="608.1" font-size="6.5" text-anchor="start" font-weight="normal" fill="#333" textLength="29" lengthAdjust="spacingAndGlyphs">SR (&lt;2.50)</text>
<text x="323.7" y="617.9" font-size="6.5" text-anchor="start" font-weight="normal" fill="#333" textLength="29" lengthAdjust="spacingAndGlyphs">HR (&#8805;2.50)</text>
<text x="408.6" y="575.6" font-size="6.05" text-anchor="middle" fill="#333" textLength="83.7" lengthAdjust="spacingAndGlyphs">Hazard Ratio = 2.09 (1.19-3.66);</text>
<text x="408.6" y="583.3" font-size="6.05" text-anchor="middle" fill="#333" textLength="22.4" lengthAdjust="spacingAndGlyphs"><tspan font-style="italic">P</tspan> = .010</text>
<path d="M305.8 508.5 L313.1 508.5 L320 508.9 L321.5 510.5 L326.9 511.5 L328.45 511.5 L328.45 513.05 L330 513.05 L330 514.6 L336.9 515.4 L338.5 516.6 L350.8 516.6 L351.95 516.6 L351.95 518.7 L353.1 518.7 L353.1 520.8 L359.2 521.2 L360.8 521.2 L360.8 523.1 L366.9 523.4 L368.5 524.8 L379.7 524.8 L380.7 527.4 L424.8 527.4 L425.5 531.2 L438.9 531.2 L439.6 535 L460.2 535 L460.5 539.8 L463.1 540.3 L463.4 546 L510.7 546" fill="none" stroke="#3eaad4" stroke-width="1.35" stroke-linejoin="miter"/>
<path d="M305.8 508.5 L313.1 508.5 L315.4 508.5 L315.4 510.5 L317.7 510.5 L317.7 511.8 L320 511.8 L320 513.1 L324.6 514.6 L327.7 514.6 L327.7 516.15 L330.8 516.15 L330.8 517.7 L333.1 517.7 L333.1 519.23 L335.4 519.23 L335.4 520.75 L337.7 520.75 L337.7 522.27 L340 522.27 L340 523.8 L341.54 523.8 L341.54 525.2 L343.08 525.2 L343.08 526.6 L344.62 526.6 L344.62 528 L346.16 528 L346.16 529.4 L347.7 529.4 L347.7 530.8 L353.1 532.3 L355.9 532.3 L355.9 533.83 L358.7 533.83 L358.7 535.37 L361.5 535.37 L361.5 536.9 L364.6 536.9 L364.6 538.3 L367.7 538.3 L367.7 539.7 L369.73 539.7 L369.73 541.07 L371.77 541.07 L371.77 542.43 L373.8 542.43 L373.8 543.8 L376.4 543.8 L376.4 545.4 L379 545.4 L379 547 L385.8 547 L385.8 548.6 L393.8 548.6 L393.8 550.3 L401.9 551.3 L410 552.4 L414.05 552.4 L414.05 553.55 L418.1 553.55 L418.1 554.7 L426.1 555.4 L434.2 556 L436.9 557.4 L441 558.3 L445.8 558.6 L458 558.6 L459.5 560.5 L470.3 561.5 L473.9 561.5 L473.9 563.3 L478.2 564.8 L510.7 564.8" fill="none" stroke="#aa1e40" stroke-width="1.35" stroke-linejoin="miter"/>
<rect x="0.5" y="0.5" width="519" height="652" fill="none" stroke="#5a5a5a" stroke-width="1"/>
</svg>
</body></html>
